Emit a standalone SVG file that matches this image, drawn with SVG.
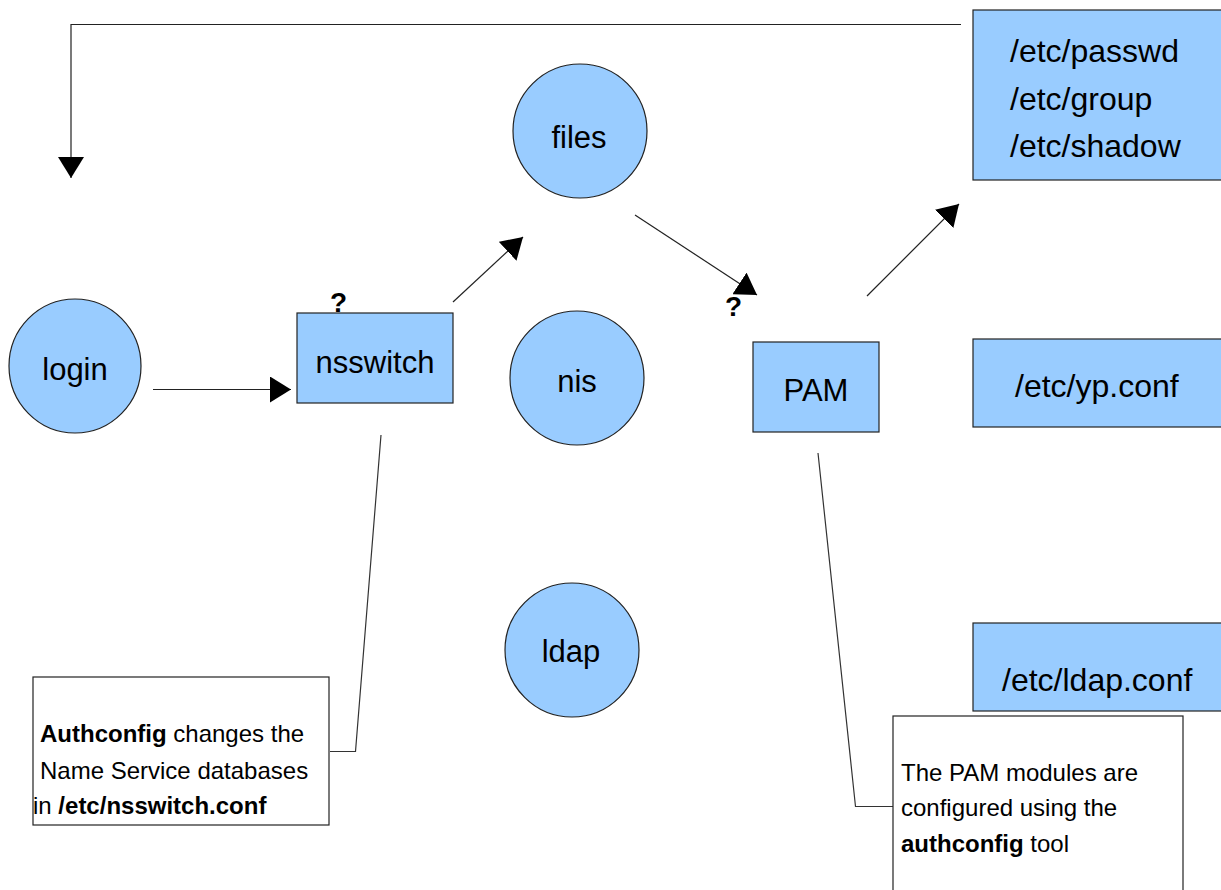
<svg xmlns="http://www.w3.org/2000/svg" width="1221" height="890" viewBox="0 0 1221 890">
  <defs>
    <style>
      .node { fill: #99ccff; stroke: #222; stroke-width: 1.2; }
      .note { fill: #ffffff; stroke: #222; stroke-width: 1.2; }
      .lbl { font-family: "Liberation Sans", Arial, sans-serif; font-size: 31px; fill: #000; text-anchor: middle; }
      .lbl-l { font-family: "Liberation Sans", Arial, sans-serif; font-size: 32px; fill: #000; }
      .small { font-family: "Liberation Sans", Arial, sans-serif; font-size: 24px; fill: #000; }
      .q { font-family: "Liberation Sans", Arial, sans-serif; font-size: 28px; font-weight: bold; fill: #000; }
      .edge { fill: none; stroke: #222; stroke-width: 1.2; }
      .lead { fill: none; stroke: #333; stroke-width: 1.2; }
    </style>
    <marker id="arrow" markerUnits="userSpaceOnUse" markerWidth="22" markerHeight="26" refX="21" refY="13" orient="auto">
      <path d="M0,0 L21,13 L0,26 z" fill="#000"/>
    </marker>
  </defs>

  <rect width="1221" height="890" fill="#ffffff"/>

  <!-- connectors -->
  <g id="connectors">
    <polyline class="edge" points="961,24.5 71,24.5 71,178" marker-end="url(#arrow)"/>
    <line class="edge" x1="153" y1="389.5" x2="291" y2="389.5" marker-end="url(#arrow)"/>
    <line class="edge" x1="453" y1="302" x2="523" y2="237" marker-end="url(#arrow)"/>
    <line class="edge" x1="635" y1="215" x2="757" y2="295" marker-end="url(#arrow)"/>
    <line class="edge" x1="867" y1="296" x2="959" y2="204" marker-end="url(#arrow)"/>
    <polyline class="lead" points="381,435 355.5,751.5 330,751.5"/>
    <polyline class="lead" points="818,453 855.5,806.5 893,806.5"/>
  </g>

  <g id="login">
    <ellipse class="node" cx="75" cy="366" rx="66" ry="67"/>
    <text class="lbl" x="75" y="380">login</text>
  </g>

  <g id="nsswitch">
    <rect class="node" x="297" y="313" width="156" height="90"/>
    <text class="lbl" x="375" y="373">nsswitch</text>
    <text class="q" x="338.5" y="312" text-anchor="middle">?</text>
  </g>

  <g id="files">
    <circle class="node" cx="580" cy="131" r="67"/>
    <text class="lbl" x="579" y="148">files</text>
  </g>

  <g id="nis">
    <circle class="node" cx="577" cy="378" r="67"/>
    <text class="lbl" x="577" y="392">nis</text>
  </g>

  <g id="ldap">
    <circle class="node" cx="572" cy="650" r="67"/>
    <text class="lbl" x="571" y="662">ldap</text>
  </g>

  <g id="pam">
    <rect class="node" x="753" y="342" width="126" height="90"/>
    <text class="lbl" x="816" y="401">PAM</text>
    <text class="q" x="733.5" y="316" text-anchor="middle">?</text>
  </g>

  <g id="files-db">
    <rect class="node" x="973" y="10" width="260" height="170"/>
    <text class="lbl-l" x="1010" y="62">/etc/passwd</text>
    <text class="lbl-l" x="1010" y="110">/etc/group</text>
    <text class="lbl-l" x="1010" y="157">/etc/shadow</text>
  </g>

  <g id="yp-conf">
    <rect class="node" x="973" y="339" width="260" height="88"/>
    <text class="lbl-l" x="1015" y="397">/etc/yp.conf</text>
  </g>

  <g id="ldap-conf">
    <rect class="node" x="973" y="623" width="260" height="88"/>
    <text class="lbl-l" x="1002" y="691">/etc/ldap.conf</text>
  </g>

  <g id="note-authconfig">
    <rect class="note" x="33" y="677" width="296" height="148"/>
    <text class="small" x="40" y="742"><tspan font-weight="bold">Authconfig</tspan> changes the</text>
    <text class="small" x="40" y="779">Name Service databases</text>
    <text class="small" x="33" y="814">in <tspan font-weight="bold">/etc/nsswitch.conf</tspan></text>
  </g>

  <g id="note-pam">
    <rect class="note" x="893" y="716" width="290" height="190"/>
    <text class="small" x="901" y="781">The PAM modules are</text>
    <text class="small" x="901" y="816">configured using the</text>
    <text class="small" x="901" y="852"><tspan font-weight="bold">authconfig</tspan> tool</text>
  </g>
</svg>
